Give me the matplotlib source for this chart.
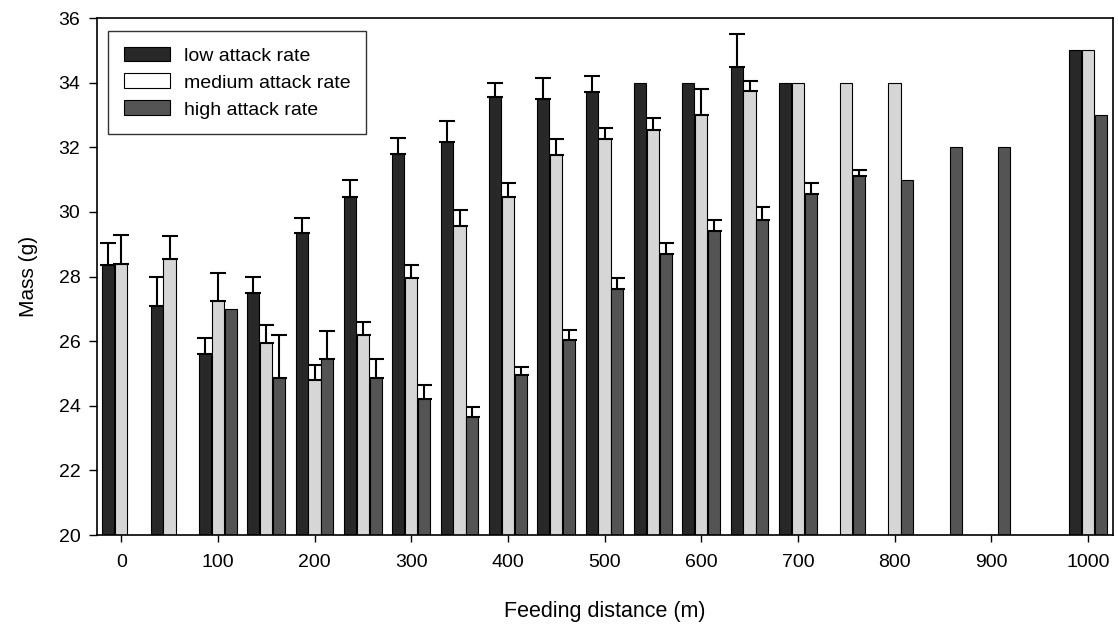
import numpy as np
import matplotlib.pyplot as plt
from matplotlib.patches import Patch

plt.rcParams['font.family'] = ['Liberation Sans', 'DejaVu Sans']

nan = np.nan

# feeding distance (m)
distance = np.arange(0, 1001, 50)

low = [28.35, 27.1, 25.6, 27.5, 29.35, 30.45, 31.8, 32.15, 33.55, 33.5, 33.7,
       34.0, 34.0, 34.5, 34.0, nan, nan, nan, nan, nan, 35.0]
low_err = [0.7, 0.9, 0.5, 0.5, 0.45, 0.55, 0.5, 0.65, 0.45, 0.65, 0.5,
           nan, nan, 1.0, nan, nan, nan, nan, nan, nan, nan]

medium = [28.4, 28.55, 27.25, 25.95, 24.8, 26.2, 27.95, 29.55, 30.45, 31.75, 32.25,
          32.55, 33.0, 33.75, 34.0, 34.0, 34.0, nan, nan, nan, 35.0]
medium_err = [0.9, 0.7, 0.85, 0.55, 0.45, 0.4, 0.4, 0.5, 0.45, 0.5, 0.35,
              0.35, 0.8, 0.3, nan, nan, nan, nan, nan, nan, nan]

high = [nan, nan, 27.0, 24.85, 25.45, 24.85, 24.2, 23.65, 24.95, 26.05, 27.6,
        28.7, 29.4, 29.75, 30.55, 31.1, 31.0, 32.0, 32.0, nan, 33.0]
high_err = [nan, nan, nan, 1.35, 0.85, 0.6, 0.45, 0.3, 0.25, 0.3, 0.35,
            0.35, 0.35, 0.4, 0.35, 0.2, nan, nan, nan, nan, nan]

labels = ['low attack rate', 'medium attack rate', 'high attack rate']
colors = ['#282828', '#d6d6d6', '#545454']

fig = plt.figure(figsize=(11.18, 6.24), dpi=100)
ax = fig.add_axes([0.0868, 0.1426, 0.9087, 0.8285])

w = 12.5
series = [(low, low_err), (medium, medium_err), (high, high_err)]
for i, (vals, errs) in enumerate(series):
    vals = np.asarray(vals, dtype=float)
    errs = np.asarray(errs, dtype=float)
    x = distance + (i - 1) * (w + 0.8)
    ok = ~np.isnan(vals)
    ax.bar(x[ok], vals[ok] - 20, width=w, bottom=20, color=colors[i],
           edgecolor='black', linewidth=0.8, zorder=2)
    # one-sided error bars (upper only)
    eok = ok & ~np.isnan(errs)
    ax.errorbar(x[eok], vals[eok], yerr=[np.zeros(eok.sum()), errs[eok]],
                fmt='none', ecolor='black', elinewidth=1.5, capsize=5.5,
                capthick=1.5, zorder=1)

ax.set_xlim(-25, 1026)
ax.set_ylim(20, 36)
ax.set_xticks(np.arange(0, 1001, 100))
ax.set_yticks(np.arange(20, 37, 2))
ax.tick_params(axis='x', direction='out', length=5, width=1,
               labelsize=14, pad=9)
ax.tick_params(axis='y', direction='out', length=6, width=1,
               labelsize=14, pad=6)
for s in ax.spines.values():
    s.set_linewidth(1.2)

ax.set_xlabel('Feeding distance (m)', fontsize=15.5, labelpad=21)
ax.set_ylabel('Mass (g)', fontsize=15, labelpad=15)

handles = [Patch(facecolor=c, edgecolor='black', linewidth=0.8) for c in colors]
handles[1] = Patch(facecolor='white', edgecolor='black', linewidth=0.8)
leg = ax.legend(handles, labels, loc='upper left', bbox_to_anchor=(0.011, 0.975),
                borderaxespad=0, fontsize=14, frameon=True, fancybox=False,
                edgecolor='black', handlelength=2.4, handleheight=0.8,
                borderpad=0.8, labelspacing=0.45, handletextpad=0.7)
leg.get_frame().set_linewidth(1.0)

fig.savefig('out.png', dpi=100)
